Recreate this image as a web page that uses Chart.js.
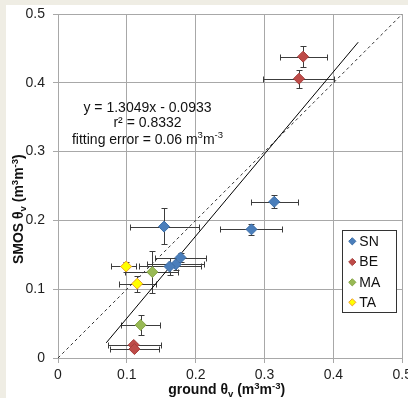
<!DOCTYPE html>
<html>
<head>
<meta charset="utf-8">
<script src="https://cdn.jsdelivr.net/npm/chart.js@4/dist/chart.umd.min.js"></script>
<style>
html, body { margin: 0; padding: 0; overflow: hidden; width: 408px; height: 398px; background: #efede4; }
#wrap { position: absolute; left: 6px; top: 5px; width: 410px; height: 393px; background: #fff; }
</style>
</head>
<body>
<div id="wrap"><canvas id="chart" width="410" height="393"></canvas></div>
<script>
// axis ticks (same for x and y)
const tickValues = [0, 0.1, 0.2, 0.3, 0.4, 0.5];

// SN
const snX   = [0.154, 0.314, 0.281, 0.178, 0.171, 0.162];
const snY   = [0.191, 0.227, 0.187, 0.146, 0.136, 0.133];
const snXLo = [0.104, 0.280, 0.236, 0.141, 0.129, 0.118];
const snXHi = [0.205, 0.348, 0.326, 0.215, 0.212, 0.207];
const snYLo = [0.165, 0.218, 0.179, 0.140, 0.128, 0.121];
const snYHi = [0.218, 0.237, 0.195, 0.152, 0.145, 0.146];

// BE
const beX   = [0.356, 0.350, 0.110, 0.111];
const beY   = [0.438, 0.406, 0.019, 0.013];
const beXLo = [0.323, 0.298, 0.072, 0.075];
const beXHi = [0.391, 0.401, 0.150, 0.147];
const beYLo = [0.423, 0.393, 0.016, 0.010];
const beYHi = [0.454, 0.419, 0.022, 0.016];

// MA
const maX   = [0.137, 0.120];
const maY   = [0.125, 0.048];
const maXLo = [0.098, 0.092];
const maXHi = [0.174, 0.148];
const maYLo = [0.094, 0.033];
const maYHi = [0.156, 0.063];

// TA
const taX   = [0.099, 0.115];
const taY   = [0.133, 0.108];
const taXLo = [0.077, 0.089];
const taXHi = [0.113, 0.142];
const taYLo = [0.125, 0.096];
const taYHi = [0.140, 0.119];

// regression line as drawn, and 1:1 line
const fitX = [0.070, 0.436];
const fitY = [0.022, 0.459];
const oneX = [0, 0.5];
const oneY = [0, 0.5];

const fitText = ['y = 1.3049x - 0.0933', 'r² = 0.8332'];

const FONT = '"Liberation Sans", Arial, sans-serif';

function pts(xs, ys) { return xs.map((v, i) => ({ x: v, y: ys[i] })); }
function errs(xl, xh, yl, yh) { return xl.map((v, i) => ({ xl: v, xh: xh[i], yl: yl[i], yh: yh[i] })); }

function series(label, xs, ys, e, fill, border) {
  return {
    type: 'scatter', label: label, data: pts(xs, ys), err: e,
    pointStyle: 'rectRot', pointRadius: 5.5, pointHoverRadius: 5.5,
    backgroundColor: fill, borderColor: border, borderWidth: 1
  };
}

// draw text with superscript / subscript parts: [text, kind] kind 1 = sup, -1 = sub
function rich(ctx, parts, x, y, size, bold, align) {
  const f = s => (bold ? 'bold ' : '') + s + 'px ' + FONT;
  let w = 0;
  parts.forEach(([t, k]) => { ctx.font = f(k ? size * 0.68 : size); w += ctx.measureText(t).width; });
  let cx = align === 'center' ? x - w / 2 : x;
  ctx.textAlign = 'left';
  ctx.textBaseline = 'alphabetic';
  parts.forEach(([t, k]) => {
    ctx.font = f(k ? size * 0.68 : size);
    const dy = k === 1 ? -size * 0.38 : (k === -1 ? size * 0.22 : 0);
    ctx.fillText(t, cx, y + dy);
    cx += ctx.measureText(t).width;
  });
}

const errorBars = {
  id: 'errorBars',
  beforeDatasetsDraw(chart) {
    const { ctx, scales: { x, y } } = chart;
    ctx.save();
    ctx.strokeStyle = '#3c3c3c';
    ctx.lineWidth = 1;
    chart.data.datasets.forEach(ds => {
      if (!ds.err) return;
      ds.data.forEach((p, i) => {
        const e = ds.err[i];
        const px = Math.round(x.getPixelForValue(p.x)) + 0.5;
        const py = Math.round(y.getPixelForValue(p.y)) + 0.5;
        const x0 = Math.round(x.getPixelForValue(e.xl)) + 0.5;
        const x1 = Math.round(x.getPixelForValue(e.xh)) + 0.5;
        const y0 = Math.round(y.getPixelForValue(e.yl)) + 0.5;
        const y1 = Math.round(y.getPixelForValue(e.yh)) + 0.5;
        ctx.beginPath();
        ctx.moveTo(x0, py); ctx.lineTo(x1, py);
        ctx.moveTo(x0, py - 3); ctx.lineTo(x0, py + 3);
        ctx.moveTo(x1, py - 3); ctx.lineTo(x1, py + 3);
        ctx.moveTo(px, y0); ctx.lineTo(px, y1);
        ctx.moveTo(px - 3, y0); ctx.lineTo(px + 3, y0);
        ctx.moveTo(px - 3, y1); ctx.lineTo(px + 3, y1);
        ctx.stroke();
      });
    });
    ctx.restore();
  }
};

const texts = {
  id: 'texts',
  afterDraw(chart) {
    const ctx = chart.ctx;
    ctx.save();
    ctx.fillStyle = '#111';
    // fit annotation
    rich(ctx, [[fitText[0], 0]], 141.5, 106.5, 14, false, 'center');
    rich(ctx, [[fitText[1], 0]], 141.5, 122, 14, false, 'center');
    rich(ctx, [['fitting error = 0.06 m', 0], ['3', 1], ['m', 0], ['-3', 1]], 141.5, 138.5, 14, false, 'center');
    // x title
    rich(ctx, [['ground θ', 0], ['v', -1], [' (m', 0], ['3', 1], ['m', 0], ['-3', 1], [')', 0]], 220.7, 389, 14, true, 'center');
    // y title
    ctx.translate(17.3, 204.2);
    ctx.rotate(-Math.PI / 2);
    rich(ctx, [['SMOS θ', 0], ['v', -1], [' (m', 0], ['3', 1], ['m', 0], ['-3', 1], [')', 0]], 0, 0, 14, true, 'center');
    ctx.restore();

    // legend
    ctx.save();
    ctx.fillStyle = '#fff';
    ctx.strokeStyle = '#333';
    ctx.lineWidth = 1;
    ctx.fillRect(336.5, 225.5, 54, 82);
    ctx.strokeRect(336.5, 225.5, 54, 82);
    const rows = [236.3, 257, 277.3, 297.3];
    chart.data.datasets.filter(d => d.err).forEach((ds, i) => {
      const cy = rows[i], cx = 346.3, r = 3.6;
      ctx.beginPath();
      ctx.moveTo(cx, cy - r); ctx.lineTo(cx + r, cy); ctx.lineTo(cx, cy + r); ctx.lineTo(cx - r, cy); ctx.closePath();
      ctx.fillStyle = ds.backgroundColor; ctx.fill();
      ctx.strokeStyle = ds.borderColor; ctx.stroke();
      ctx.fillStyle = '#111';
      ctx.font = '14px ' + FONT;
      ctx.textAlign = 'left';
      ctx.textBaseline = 'middle';
      ctx.fillText(ds.label, 353.3, cy + 0.5);
    });
    ctx.restore();
  }
};

const axisCommon = {
  type: 'linear', min: 0, max: 0.5,
  afterBuildTicks: s => { s.ticks = tickValues.map(v => ({ value: v })); },
  grid: { color: '#a8a8a8', tickColor: '#a8a8a8', tickLength: 5, lineWidth: 1 },
  border: { color: '#a8a8a8' },
  ticks: {
    color: '#1e1e1e', font: { family: FONT, size: 14 },
    callback: v => v === 0 ? '0' : v.toFixed(1)
  }
};

new Chart(document.getElementById('chart'), {
  data: {
    datasets: [
      series('SN', snX, snY, errs(snXLo, snXHi, snYLo, snYHi), '#4a7ebb', '#3d6fa8'),
      series('BE', beX, beY, errs(beXLo, beXHi, beYLo, beYHi), '#be4b48', '#a63f3c'),
      series('MA', maX, maY, errs(maXLo, maXHi, maYLo, maYHi), '#98b954', '#86a548'),
      series('TA', taX, taY, errs(taXLo, taXHi, taYLo, taYHi), '#ffff00', '#f0a030'),
      { type: 'line', label: 'fit', data: pts(fitX, fitY), borderColor: '#000', borderWidth: 1, pointRadius: 0 },
      { type: 'line', label: '1:1', data: pts(oneX, oneY), borderColor: '#333', borderWidth: 1, borderDash: [3, 3], pointRadius: 0 }
    ]
  },
  options: {
    responsive: false,
    animation: false,
    layout: { padding: { top: 9, left: 0, right: 0, bottom: 0 } },
    plugins: { legend: { display: false }, tooltip: { enabled: false } },
    scales: {
      x: Object.assign({}, axisCommon, {
        position: 'bottom',
        afterFit: s => { s.height = 40; },
        ticks: Object.assign({}, axisCommon.ticks, { padding: 4, maxRotation: 0 })
      }),
      y: Object.assign({}, axisCommon, {
        position: 'left',
        afterFit: s => { s.width = 52; s.paddingTop = 0; s.paddingBottom = 0; },
        ticks: Object.assign({}, axisCommon.ticks, { padding: 8 })
      })
    }
  },
  plugins: [errorBars, texts]
});
</script>
</body>
</html>
